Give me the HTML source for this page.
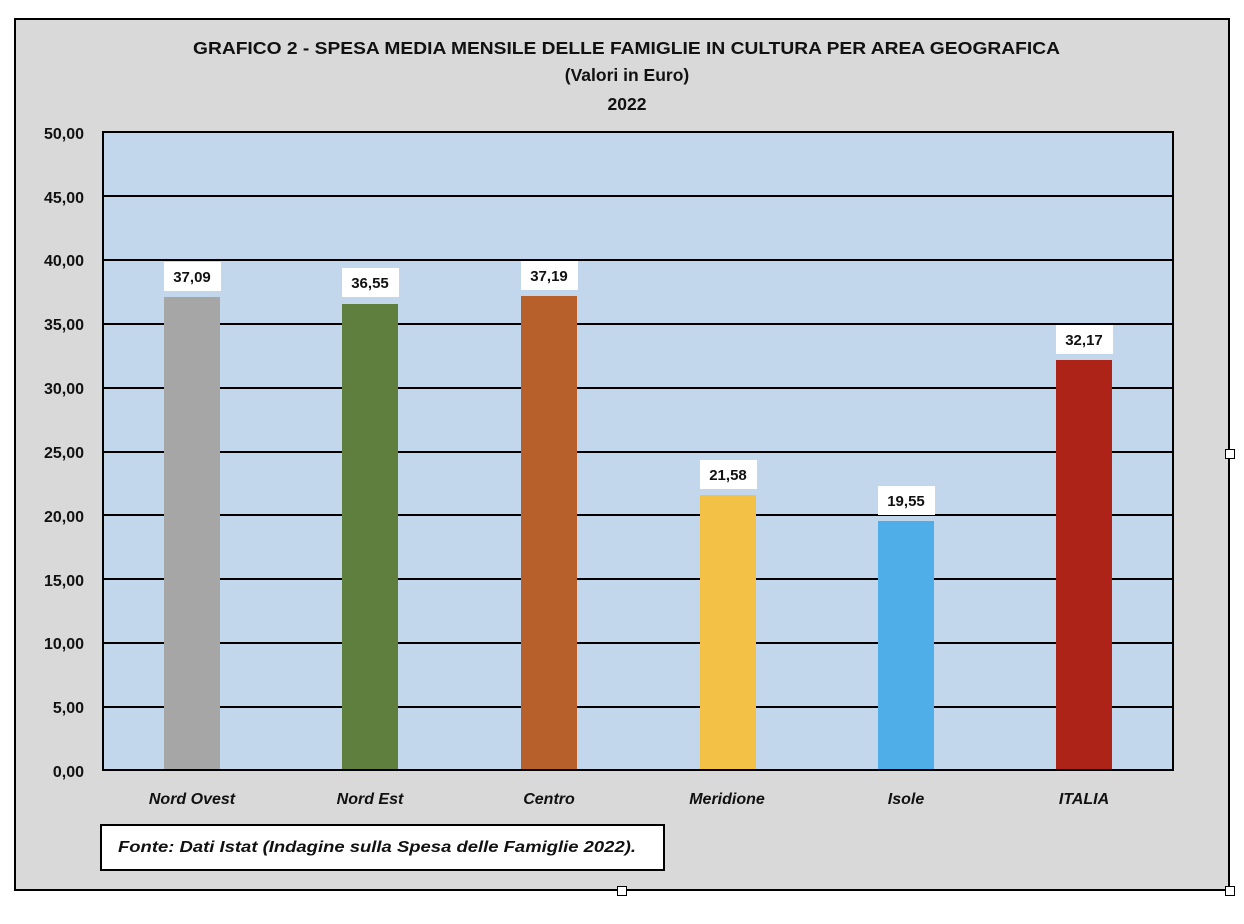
<!DOCTYPE html>
<html><head><meta charset="utf-8"><style>
body{margin:0;background:#fff;}
svg{display:block;font-family:"Liberation Sans",sans-serif;}
</style></head><body>
<svg width="1244" height="924" viewBox="0 0 1244 924">
<rect x="15" y="19" width="1214" height="871" fill="#d9d9d9" stroke="#000" stroke-width="2"/>
<text x="193" y="54" font-size="17.5" font-weight="bold" fill="#111" textLength="867" lengthAdjust="spacingAndGlyphs">GRAFICO 2 - SPESA MEDIA MENSILE DELLE FAMIGLIE IN CULTURA PER AREA GEOGRAFICA</text>
<text x="627" y="81" text-anchor="middle" font-size="17.5" font-weight="bold" fill="#111">(Valori in Euro)</text>
<text x="627" y="110" text-anchor="middle" font-size="17.5" font-weight="bold" fill="#111">2022</text>
<rect x="103" y="132" width="1070" height="638" fill="#c2d7ec"/>
<g stroke="#000" stroke-width="2">
<line x1="103" y1="196" x2="1173" y2="196"/><line x1="103" y1="260" x2="1173" y2="260"/>
<line x1="103" y1="324" x2="1173" y2="324"/><line x1="103" y1="388" x2="1173" y2="388"/>
<line x1="103" y1="452" x2="1173" y2="452"/><line x1="103" y1="515" x2="1173" y2="515"/>
<line x1="103" y1="579" x2="1173" y2="579"/><line x1="103" y1="643" x2="1173" y2="643"/>
<line x1="103" y1="707" x2="1173" y2="707"/>
</g>
<g font-size="16" font-weight="bold" fill="#111" text-anchor="end">
<text x="84" y="139">50,00</text><text x="84" y="203">45,00</text><text x="84" y="266">40,00</text>
<text x="84" y="330">35,00</text><text x="84" y="394">30,00</text><text x="84" y="458">25,00</text>
<text x="84" y="522">20,00</text><text x="84" y="586">15,00</text><text x="84" y="649">10,00</text>
<text x="84" y="713">5,00</text><text x="84" y="777">0,00</text>
</g>
<rect x="164" y="297" width="56" height="473" fill="#a6a6a6"/>
<rect x="342" y="304" width="56" height="466" fill="#5f7f3e"/>
<rect x="521" y="296" width="56" height="474" fill="#b8602b"/>
<rect x="700" y="495" width="56" height="275" fill="#f3c146"/>
<rect x="878" y="521" width="56" height="249" fill="#4faee8"/>
<rect x="1056" y="360" width="56" height="410" fill="#ae2317"/>
<rect x="103" y="132" width="1070" height="638" fill="none" stroke="#000" stroke-width="2"/>
<g fill="#fff">
<rect x="164" y="262" width="57" height="29"/><rect x="342" y="268" width="57" height="29"/>
<rect x="521" y="261" width="57" height="29"/><rect x="700" y="460" width="57" height="29"/>
<rect x="878" y="486" width="57" height="29"/><rect x="1056" y="325" width="57" height="29"/>
</g>
<g font-size="15" font-weight="bold" fill="#111" text-anchor="middle">
<text x="192" y="282">37,09</text><text x="370" y="288">36,55</text><text x="549" y="281">37,19</text>
<text x="728" y="480">21,58</text><text x="906" y="506">19,55</text><text x="1084" y="345">32,17</text>
</g>
<g font-size="16" font-weight="bold" font-style="italic" fill="#111" text-anchor="middle">
<text x="192" y="804">Nord Ovest</text><text x="370" y="804">Nord Est</text><text x="549" y="804">Centro</text>
<text x="727" y="804">Meridione</text><text x="906" y="804">Isole</text><text x="1084" y="804">ITALIA</text>
</g>
<rect x="101" y="825" width="563" height="45" fill="#fff" stroke="#000" stroke-width="2"/>
<text x="118" y="852" font-size="16" font-weight="bold" font-style="italic" fill="#111" textLength="518" lengthAdjust="spacingAndGlyphs">Fonte: Dati Istat (Indagine sulla Spesa delle Famiglie 2022).</text>
<g fill="#fff" stroke="#000" stroke-width="1">
<rect x="617.5" y="886.5" width="9" height="9"/><rect x="1225.5" y="449.5" width="9" height="9"/><rect x="1225.5" y="886.5" width="9" height="9"/>
</g>
</svg>
</body></html>
